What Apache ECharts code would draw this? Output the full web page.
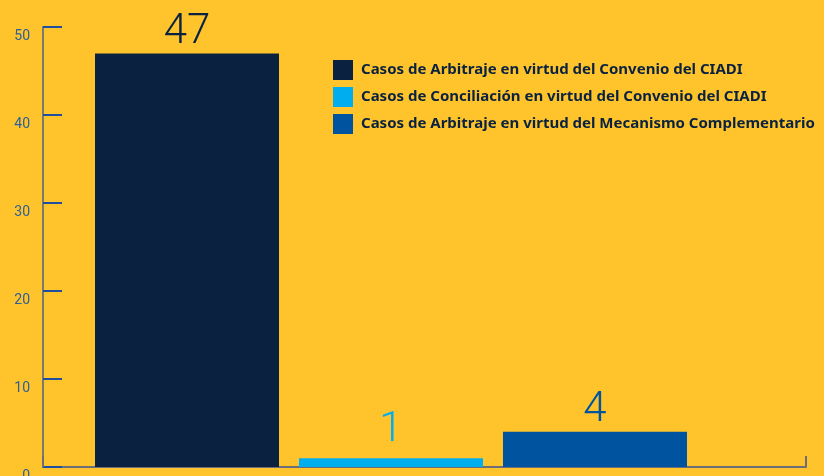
<!DOCTYPE html>
<html><head><meta charset="utf-8">
<script src="https://cdn.jsdelivr.net/npm/echarts@6/dist/echarts.min.js"></script>
<style>html,body{margin:0;padding:0;background:#FFC42B;}#c{width:824px;height:476px;}</style>
</head><body><div id="c"></div>
<script>
var categories = ['Arbitraje CIADI', 'Conciliación CIADI', 'Mecanismo Complementario'];
var seriesNames = [
  'Casos de Arbitraje en virtud del Convenio del CIADI',
  'Casos de Conciliación en virtud del Convenio del CIADI',
  'Casos de Arbitraje en virtud del Mecanismo Complementario'
];
var seriesValues = [47, 1, 4];
var yTicks = [0, 10, 20, 30, 40, 50];

var colors = ['#0A2240', '#00AEEF', '#00539F'];
var labelDist = [0, 7, 0];

var chart = echarts.init(document.getElementById('c'));
var series = seriesNames.map(function (name, i) {
  var data = categories.map(function (c, j) { return j === i ? seriesValues[i] : '-'; });
  return {
    name: name, type: 'bar', xAxisIndex: 0, yAxisIndex: 0,
    data: data, barWidth: 184, barGap: '-100%',
    itemStyle: { color: colors[i] },
    label: {
      show: true, position: 'top', distance: labelDist[i],
      color: colors[i], fontSize: 42, fontFamily: 'Roboto, sans-serif',
      fontWeight: 300
    },
    animation: false
  };
});

chart.setOption({
  backgroundColor: '#FFC42B',
  animation: false,
  grid: [
    { left: 85, width: 612, top: 27, bottom: 9, outerBoundsMode: 'none', containLabel: false },
    { left: 43, right: 18, top: 27, bottom: 9, outerBoundsMode: 'none', containLabel: false }
  ],
  legend: {
    orient: 'vertical', left: 333, top: 60, padding: 0, itemWidth: 20, itemHeight: 20, itemGap: 7,
    icon: 'rect', data: seriesNames,
    textStyle: { color: '#0A2240', fontSize: 15, fontWeight: 'bold', fontFamily: 'Noto Sans, sans-serif', padding: [0, 0, 0, 3] }
  },
  xAxis: [
    { type: 'category', gridIndex: 0, data: categories, show: false },
    { type: 'value', gridIndex: 1, min: 0, max: 1, interval: 1,
      axisLine: { show: true, lineStyle: { color: '#6E6E78', width: 2 } },
      axisTick: { show: true, inside: true, length: 11, lineStyle: { color: '#6E6E78', width: 2 } },
      axisLabel: { show: false }, splitLine: { show: false } }
  ],
  yAxis: [
    { type: 'value', gridIndex: 0, min: 0, max: 50, interval: 10, show: false },
    { type: 'value', gridIndex: 1, min: 0, max: 50, interval: 10,
      axisLine: { show: true, lineStyle: { color: '#7A7A70', width: 2 } },
      axisTick: { show: true, inside: true, length: 19, lineStyle: { color: '#1F4FA0', width: 2 } },
      axisLabel: { show: true, color: '#2D5F9A', fontSize: 14, margin: 13,
        fontFamily: 'Roboto, sans-serif', verticalAlign: 'top', padding: [2, 0, 0, 0],
        formatter: function (v) { return yTicks.indexOf(v) >= 0 ? String(v) : ''; } },
      splitLine: { show: false } }
  ],
  series: series
});
</script></body></html>
